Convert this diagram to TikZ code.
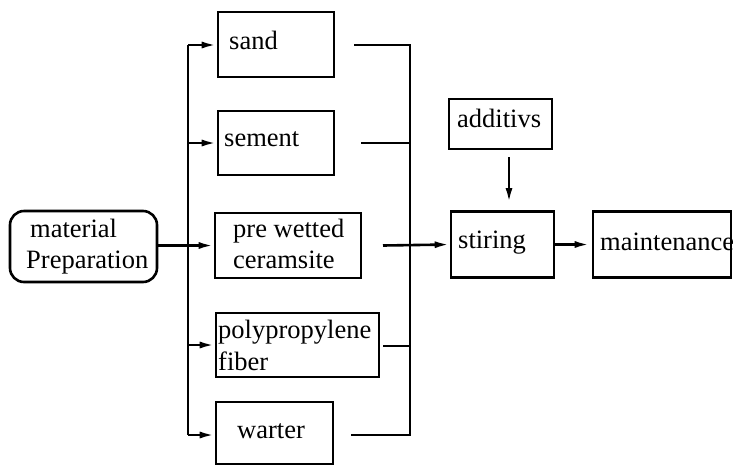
\documentclass[tikz,border=0pt]{standalone}
\usepackage{fontspec}
\setmainfont{Liberation Serif}
\usetikzlibrary{arrows.meta,calc}
\begin{document}
\begin{tikzpicture}[x=1pt,y=-1pt,
  box/.style={draw,line width=2.6pt,inner sep=0pt},
  txt/.style={inner sep=0pt,anchor=base west,font=\fontsize{26.5}{31}\selectfont},
  ln/.style={line width=2.6pt},
  arr/.style={line width=2.6pt,-{Latex[length=15pt,width=7pt]}}]
\useasboundingbox (0,0) rectangle (733,464);
% boxes
\node[box,minimum width=116pt,minimum height=65pt] (sand) at (276,44.5) {};
\node[box,minimum width=116pt,minimum height=64pt] (sem) at (276,143) {};
\node[box,minimum width=146pt,minimum height=65pt] (pw) at (288,245.5) {};
\node[box,minimum width=163pt,minimum height=64pt] (pp) at (297.5,345) {};
\node[box,minimum width=117pt,minimum height=62pt] (wat) at (274.5,433) {};
\node[box,rounded corners=14pt,minimum width=147pt,minimum height=71pt] (mat) at (83.5,246.5) {};
\node[box,minimum width=103pt,minimum height=50pt] (add) at (500.5,124) {};
\node[box,minimum width=103pt,minimum height=66pt] (stir) at (502.5,244.5) {};
\node[box,minimum width=138pt,minimum height=66pt] (maint) at (662,244.5) {};
% texts
\node[txt] (sandT) at (229,49) {sand};
\node[txt] (semT) at (224,146) {sement};
\node[txt] (pwT1) at (233,237) {pre wetted};
\node[txt] (pwT2) at (233,268) {ceramsite};
\node[txt] (ppT1) at (218,338) {polypropylene};
\node[txt] (ppT2) at (218,370) {fiber};
\node[txt] (watT) at (237,438) {warter};
\node[txt] (matT1) at (30,237) {material};
\node[txt] (matT2) at (26,268) {Preparation};
\node[txt] (addT) at (457,127) {additivs};
\node[txt] (stirT) at (458,248) {stiring};
\node[txt] (maintT) at (600,250) {maintenance};
% left bus
\coordinate (lb1) at (188,45);
\coordinate (lb5) at (188,435);
\draw[ln] (lb1) -- (lb5);
\draw[arr] (lb1) -- (lb1 -| sand.west);
\draw[arr] (lb1 |- sem) -- (sem.west);
\draw[arr] (mat.east |- pw) -- (pw.west);
\draw[arr] (lb1 |- pp) -- (pp.west);
\draw[arr] (lb5) -- (lb5 -| wat.west);
% right bus
\coordinate (rb1) at (410,45);
\coordinate (rb5) at (410,435);
\coordinate (rs1) at (354,45);
\coordinate (rs2) at (361,143);
\coordinate (rs3) at (383,245.5);
\coordinate (rs4) at (383,346);
\coordinate (rs5) at (351,435);
\draw[ln] (rs1) -- (rb1) -- (rb5) -- (rs5);
\draw[ln] (rs2) -- (rs2 -| rb1);
\draw[ln] (rs4) -- (rs4 -| rb1);
\draw[arr] (rs3) -- (stir.west);
% additivs arrow
\coordinate (ad1) at (509,157);
\coordinate (ad2) at (509,203);
\draw[arr] (ad1) -- (ad2);
\draw[arr] (stir.east) -- ([xshift=-2pt]maint.west);
\end{tikzpicture}
\end{document}
